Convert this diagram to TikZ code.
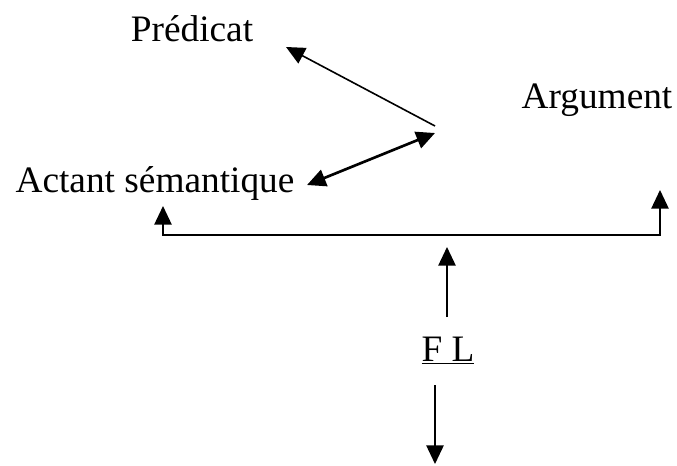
\documentclass[tikz,border=0pt]{standalone}
\usepackage{fontspec}
\setmainfont{Liberation Serif}
\usetikzlibrary{arrows.meta}
\begin{document}
\begin{tikzpicture}[x=0.75pt,y=-0.75pt,>={Triangle[length=14pt,width=13pt]},
    lbl/.style={inner sep=0pt,anchor=base,font=\fontsize{28}{34}\selectfont},
    arr/.style={->,line width=1.2pt}]
  \useasboundingbox (0,0) rectangle (677,465);
  % labels
  \node[lbl] (pred) at (192,41) {Prédicat};
  \node[lbl] (arg) at (597,108) {Argument};
  \node[lbl] (act) at (155,192) {Actant sémantique};
  \node[lbl] (fl) at (448,361) {\underline{F L}};
  % junction points
  \coordinate (hub) at (435,126);
  \coordinate (hub2) at (435,133);
  \coordinate (predtip) at (286,47);
  \coordinate (acttip) at (307,185);
  \coordinate (lft) at (163,235);
  \coordinate (rgt) at (660,235);
  \coordinate (lfttip) at (163,206);
  \coordinate (rgttip) at (660,190);
  \coordinate (mid) at (447,317);
  \coordinate (midtip) at (447,247);
  \coordinate (low) at (435,385);
  \coordinate (bot) at (435,464);
  % arrows
  \draw[arr] (hub) -- (predtip);
  \draw[<->,line width=2pt] (acttip) -- (hub2);
  \draw[<->,line width=1.2pt] (lfttip) -- (lft) -- (rgt) -- (rgttip);
  \draw[arr] (mid) -- (midtip);
  \draw[arr] (low) -- (bot);
\end{tikzpicture}
\end{document}
